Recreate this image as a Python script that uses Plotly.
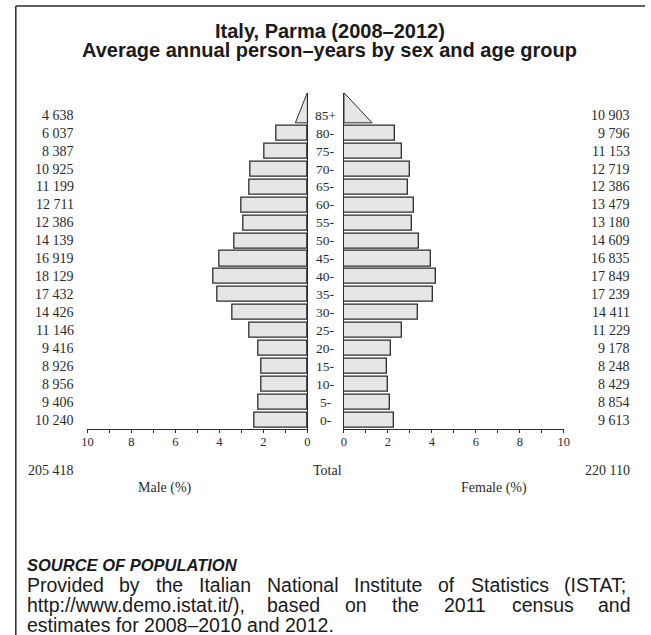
import plotly.graph_objects as go

W, H = 651, 635

# Person-years by age group
age_groups = ["0-", "5-", "10-", "15-", "20-", "25-", "30-", "35-", "40-",
              "45-", "50-", "55-", "60-", "65-", "70-", "75-", "80-", "85+"]
male = [10240, 9406, 8956, 8926, 9416, 11146, 14426, 17432, 18129,
        16919, 14139, 12386, 12711, 11199, 10925, 8387, 6037, 4638]
female = [9613, 8854, 8429, 8248, 9178, 11229, 14411, 17239, 17849,
          16835, 14609, 13180, 13479, 12386, 12719, 11153, 9796, 10903]
tick_vals = [0, 2, 4, 6, 8, 10]

title_lines = ["Italy, Parma (2008–2012)",
               "Average annual person–years by sex and age group"]
source_title = "SOURCE OF POPULATION"
source_lines = [
    "Provided by the Italian National Institute of Statistics (ISTAT;",
    "http://www.demo.istat.it/), based on the 2011 census and",
    "estimates for 2008–2010 and 2012.",
]

SERIF = "Liberation Serif"
SANS = "Liberation Sans"
INK = "#2b2b2b"
BAR_W = 0.84


def px(x):
    return x / W


def py(y):
    return 1 - y / H


def fmt(v):
    return f"{v:,}".replace(",", " ")


total_all = sum(male) + sum(female)
male_pct = [v / total_all * 100 for v in male]
female_pct = [v / total_all * 100 for v in female]
idx = list(range(len(age_groups)))

fig = go.Figure()

bar_style = dict(orientation="h", width=BAR_W, showlegend=False, hoverinfo="skip",
                 marker=dict(color="#e6e6e6", line=dict(color=INK, width=1.3)))
fig.add_trace(go.Bar(x=male_pct[:-1], y=idx[:-1], xaxis="x", yaxis="y", **bar_style))
fig.add_trace(go.Bar(x=female_pct[:-1], y=idx[:-1], xaxis="x2", yaxis="y2", **bar_style))

# open-ended 85+ group drawn as a triangle (same area as a bar of that value)
last = idx[-1]
y0 = last - BAR_W / 2
y1 = y0 + 2 * BAR_W
for pct, xa, ya in [(male_pct[-1], "x", "y"), (female_pct[-1], "x2", "y2")]:
    fig.add_trace(go.Scatter(
        x=[0, 0, pct / 2, 0], y=[y1, y0, y0, y1], xaxis=xa, yaxis=ya,
        mode="lines", fill="toself", fillcolor="#e6e6e6",
        line=dict(color=INK, width=1), showlegend=False, hoverinfo="skip"))

yr = [-0.5, y1]
xaxis_common = dict(
    showline=True, linecolor=INK, linewidth=1.2, ticks="outside", ticklen=3,
    tickcolor=INK, tickvals=tick_vals, showgrid=False, zeroline=False,
    ticklabelstandoff=-2,
    tickfont=dict(family=SERIF, size=12.5, color=INK),
    minor=dict(dtick=1, ticks="outside", ticklen=3, tickcolor=INK, showgrid=False),
)
fig.update_layout(
    width=W, height=H, margin=dict(l=0, r=0, t=0, b=0),
    paper_bgcolor="white", plot_bgcolor="white", bargap=0,
    xaxis=dict(domain=[px(83), px(307)], range=[10, 0], anchor="y", **xaxis_common),
    xaxis2=dict(domain=[px(344.3), px(568.3)], range=[0, 10], anchor="y2", **xaxis_common),
    yaxis=dict(domain=[py(429), py(92.7)], range=yr, anchor="x", side="right",
               showline=True, linecolor=INK, linewidth=1.2, showticklabels=False,
               ticks="", showgrid=False, zeroline=False),
    yaxis2=dict(domain=[py(429), py(92.7)], range=yr, anchor="x2", side="left",
                showline=True, linecolor=INK, linewidth=1.2, showticklabels=False,
                ticks="", showgrid=False, zeroline=False),
)

ann = []
# age labels and counts
for i, lab in enumerate(age_groups):
    ann.append(dict(x=px(325.5), y=i, xref="paper", yref="y", text=lab,
                    showarrow=False, xanchor="center", yanchor="middle",
                    font=dict(family=SERIF, size=13.5, color=INK)))
    ann.append(dict(x=px(69), y=i, xref="paper", yref="y", text=fmt(male[i]),
                    showarrow=False, xanchor="right", yanchor="middle",
                    font=dict(family=SERIF, size=14, color=INK)))
    ann.append(dict(x=px(636), y=i, xref="paper", yref="y", text=fmt(female[i]),
                    showarrow=False, xanchor="right", yanchor="middle",
                    font=dict(family=SERIF, size=14, color=INK)))

serif14 = dict(family=SERIF, size=14, color=INK)
ann += [
    dict(x=px(69), y=py(471), text=fmt(sum(male)), xanchor="right", font=serif14),
    dict(x=px(328), y=py(471), text="Total", xanchor="center", font=serif14),
    dict(x=px(636), y=py(471), text=fmt(sum(female)), xanchor="right", font=serif14),
    dict(x=px(162), y=py(488), text="Male (%)", xanchor="center", font=serif14),
    dict(x=px(497), y=py(488), text="Female (%)", xanchor="center", font=serif14),
]
for k, line in enumerate(title_lines):
    ann.append(dict(x=px(330), y=py(31 + 19 * k), text=f"<b>{line}</b>",
                    xanchor="center", font=dict(family=SANS, size=20, color="#1a1a1a")))

ann.append(dict(x=px(21), y=py(565), text=f"<b><i>{source_title}</i></b>",
                xanchor="left", font=dict(family=SANS, size=16.5, color="#1a1a1a")))

# Arial/Liberation Sans advance widths (per 1000 em) for justified text
AW = {" ": 278, "i": 222, "j": 222, "l": 222, "f": 278, "t": 278, "r": 333,
      "m": 833, "w": 722, "c": 500, "k": 500, "s": 500, "v": 500, "x": 500,
      "y": 500, "z": 500, "I": 278, "S": 667, "T": 611, "A": 667, "N": 722,
      "P": 667, "(": 333, ")": 333, ";": 278, ":": 278, "/": 278, ".": 278,
      ",": 278, "–": 556, "-": 333}


def text_w(s, size):
    return sum(AW.get(c, 556) for c in s) * size / 1000


SRC_SIZE = 19.5
left, right = 21, 636
for k, line in enumerate(source_lines):
    yy = py(585 + 20 * k)
    words = line.split(" ")
    if k == len(source_lines) - 1:
        ann.append(dict(x=px(left), y=yy, text=line, xanchor="left",
                        font=dict(family=SANS, size=SRC_SIZE, color="#1a1a1a")))
        continue
    widths = [text_w(w_, SRC_SIZE) for w_ in words]
    gap = (right - left - sum(widths)) / (len(words) - 1)
    xx = left
    for w_, wd in zip(words, widths):
        ann.append(dict(x=px(xx), y=yy, text=w_, xanchor="left",
                        font=dict(family=SANS, size=SRC_SIZE, color="#1a1a1a")))
        xx += wd + gap

for a in ann:
    a.setdefault("xref", "paper")
    a.setdefault("yref", "paper")
    a.setdefault("showarrow", False)
    a.setdefault("yanchor", "middle")
    a.setdefault("borderpad", 0)
    a.setdefault("borderwidth", 0)
fig.update_layout(annotations=ann)

# frame: left and top rule
fig.add_shape(type="line", xref="paper", yref="paper", x0=px(10), x1=px(10),
              y0=0, y1=py(6), line=dict(color=INK, width=1.5))
fig.add_shape(type="line", xref="paper", yref="paper", x0=px(10), x1=1,
              y0=py(6), y1=py(6), line=dict(color=INK, width=1.5))

fig.write_html("out.html", config={"displayModeBar": False},
               post_script="document.body.style.margin='0';")
